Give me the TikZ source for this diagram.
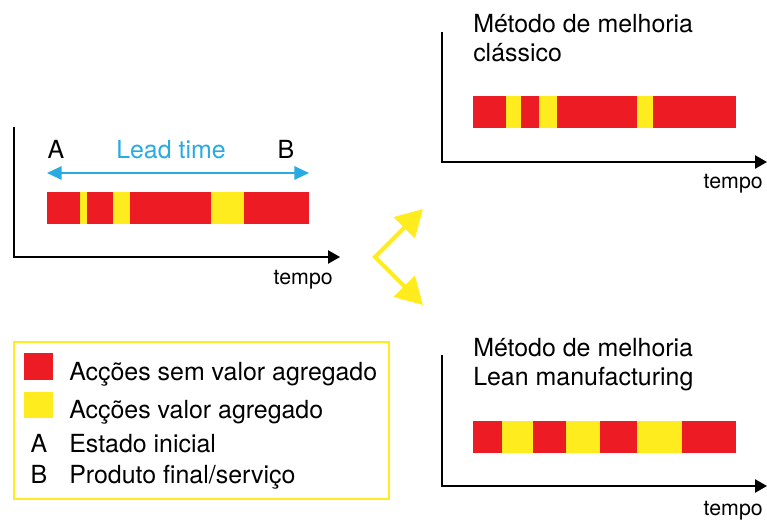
\documentclass[tikz,border=0pt]{standalone}
\usepackage{fontspec}
\setmainfont{TeX Gyre Heros}
\usetikzlibrary{arrows.meta}

\definecolor{barred}{RGB}{237,28,36}
\definecolor{baryellow}{RGB}{255,236,30}
\definecolor{leadblue}{RGB}{41,171,226}

\tikzset{
 axis/.style={line width=1.1pt,-{Triangle[length=9pt,width=10pt]}},
 txt/.style={inner sep=0pt,anchor=base west,font=\fontsize{18.7}{22}\selectfont},
 tempolabel/.style={inner sep=0pt,anchor=base east,font=\fontsize{16}{20}\selectfont},
 leadarrow/.style={leadblue,line width=1.5pt,{Triangle[length=11pt,width=10pt]}-{Triangle[length=11pt,width=10pt]}},
 forkarrow/.style={baryellow,line width=3pt,{Triangle[length=20pt,width=22pt]}-{Triangle[length=20pt,width=22pt]}}
}

\begin{document}
\begin{tikzpicture}[x=0.75pt,y=-0.75pt]
\useasboundingbox (0,0) rectangle (767,520);

% estado actual
\draw[axis] (14,127) |- (340,257);
\foreach \a/\b/\c in {47/80/barred,80/87/baryellow,87/113/barred,113/130/baryellow,130/211/barred,211/244/baryellow,244/309/barred}
{
\fill[\c] (\a,192) rectangle (\b,224);
}
\coordinate (ls) at (47,173);
\coordinate (le) at (309,173);
\draw[leadarrow] (ls) -- (le);
\node[txt,anchor=base] (A) at (56,159) {A};
\node[txt,anchor=base] (B) at (286,159) {B};
\node[txt,anchor=base,text=leadblue] (lead) at (171,159) {Lead time};
\node[tempolabel] (t0) at (333,285) {tempo};

% metodo classico
\begin{scope}
\draw[axis] (442,32) |- (767,162);
\foreach \a/\b/\c in {473/506/barred,506/521/baryellow,521/539/barred,539/557/baryellow,557/637/barred,637/653/baryellow,653/736/barred}
{
\fill[\c] (\a,96) rectangle (\b,128);
}
\node[txt] (tit1) at (473,33) {Método de melhoria};
\node[txt] (tit1b) at (473,62) {clássico};
\node[tempolabel] (t1) at (763,189) {tempo};
\end{scope}

% lean manufacturing
\begin{scope}[shift={(0,324)}]
\draw[axis] (442,31) |- (767,162);
\foreach \a/\b/\c in {473/502/barred,502/533/baryellow,533/566/barred,566/600/baryellow,600/637/barred,637/682/baryellow,682/736/barred}
{
\fill[\c] (\a,97) rectangle (\b,129);
}
\node[txt] (tit2) at (473,32) {Método de melhoria};
\node[txt] (tit2b) at (473,61) {Lean manufacturing};
\node[tempolabel] (t2) at (763,191) {tempo};
\end{scope}

% setas
\coordinate (fork) at (375,257);
\coordinate (up) at (423,209);
\coordinate (dn) at (423,305);
\draw[forkarrow] (up) -- (fork) -- (dn);

% legenda
\draw[baryellow,line width=1.5pt] (14,342) rectangle (389,499);
\fill[barred] (24,353) rectangle (53,380);
\fill[baryellow] (24,392) rectangle (53,418);
\node[txt] (l1) at (69,380) {Acções sem valor agregado};
\node[txt] (l2) at (69,418) {Acções valor agregado};
\node[txt,anchor=base] (la) at (39,452) {A};
\node[txt] (l3) at (69,452) {Estado inicial};
\node[txt,anchor=base] (lb) at (39,483) {B};
\node[txt] (l4) at (69,483) {Produto final/serviço};

\end{tikzpicture}
\end{document}
